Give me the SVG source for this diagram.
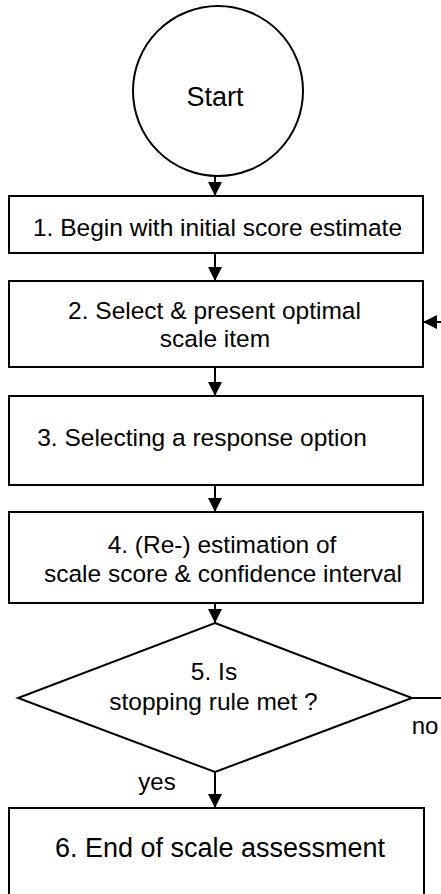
<svg xmlns="http://www.w3.org/2000/svg" width="441" height="894" viewBox="0 0 441 894">
<style>
  .shape { fill: #ffffff; stroke: #000000; stroke-width: 2; }
  .conn { stroke: #000000; stroke-width: 2; fill: none; }
  text { font-family: "Liberation Sans", Arial, sans-serif; fill: #000000; text-anchor: middle; }
  .t { font-size: 24.5px; }
  .tl { font-size: 27px; }
  .lbl { font-size: 24px; }
</style>
<defs>
  <marker id="arr" viewBox="0 0 14 14" refX="14" refY="7" markerWidth="14" markerHeight="14" markerUnits="userSpaceOnUse" orient="auto">
    <path d="M0,0 L14,7 L0,14 z" fill="#000000"/>
  </marker>
</defs>
<rect width="441" height="894" fill="#ffffff"/>
<g id="connectors">
  <line class="conn" x1="215" y1="176" x2="215" y2="196" marker-end="url(#arr)"/>
  <line class="conn" x1="215" y1="253" x2="215" y2="281" marker-end="url(#arr)"/>
  <line class="conn" x1="215" y1="367" x2="215" y2="396" marker-end="url(#arr)"/>
  <line class="conn" x1="215" y1="485" x2="215" y2="512" marker-end="url(#arr)"/>
  <line class="conn" x1="215" y1="603" x2="215" y2="623" marker-end="url(#arr)"/>
  <line class="conn" x1="215" y1="772" x2="215" y2="808" marker-end="url(#arr)"/>
  <line class="conn" x1="412" y1="698" x2="441" y2="698"/>
  <line class="conn" x1="441" y1="322" x2="423" y2="322" marker-end="url(#arr)"/>
  <text class="lbl" x="425" y="734">no</text>
  <text class="lbl" x="157" y="790">yes</text>
</g>
<g id="start">
  <circle class="shape" cx="218" cy="91" r="85"/>
  <text class="tl" x="215" y="106">Start</text>
</g>
<g id="step1">
  <rect class="shape" x="9" y="196" width="414" height="57"/>
  <text class="t" x="217.5" y="236">1. Begin with initial score estimate</text>
</g>
<g id="step2">
  <rect class="shape" x="9" y="281" width="414" height="86"/>
  <text class="t" x="214.5" y="319">2. Select &amp; present optimal</text>
  <text class="t" x="215" y="347">scale item</text>
</g>
<g id="step3">
  <rect class="shape" x="9" y="396" width="414" height="89"/>
  <text class="t" x="202" y="446">3. Selecting a response option</text>
</g>
<g id="step4">
  <rect class="shape" x="9" y="512" width="414" height="91"/>
  <text class="t" x="222" y="553">4. (Re-) estimation of</text>
  <text class="t" x="223" y="582">scale score &amp; confidence interval</text>
</g>
<g id="step5">
  <polygon class="shape" points="215,623 412,698 215,772 18,698"/>
  <text class="t" x="214" y="680">5. Is</text>
  <text class="t" x="213.5" y="710">stopping rule met ?</text>
</g>
<g id="step6">
  <rect class="shape" x="9" y="808" width="415" height="100"/>
  <text class="tl" x="220" y="857">6. End of scale assessment</text>
</g>
</svg>
